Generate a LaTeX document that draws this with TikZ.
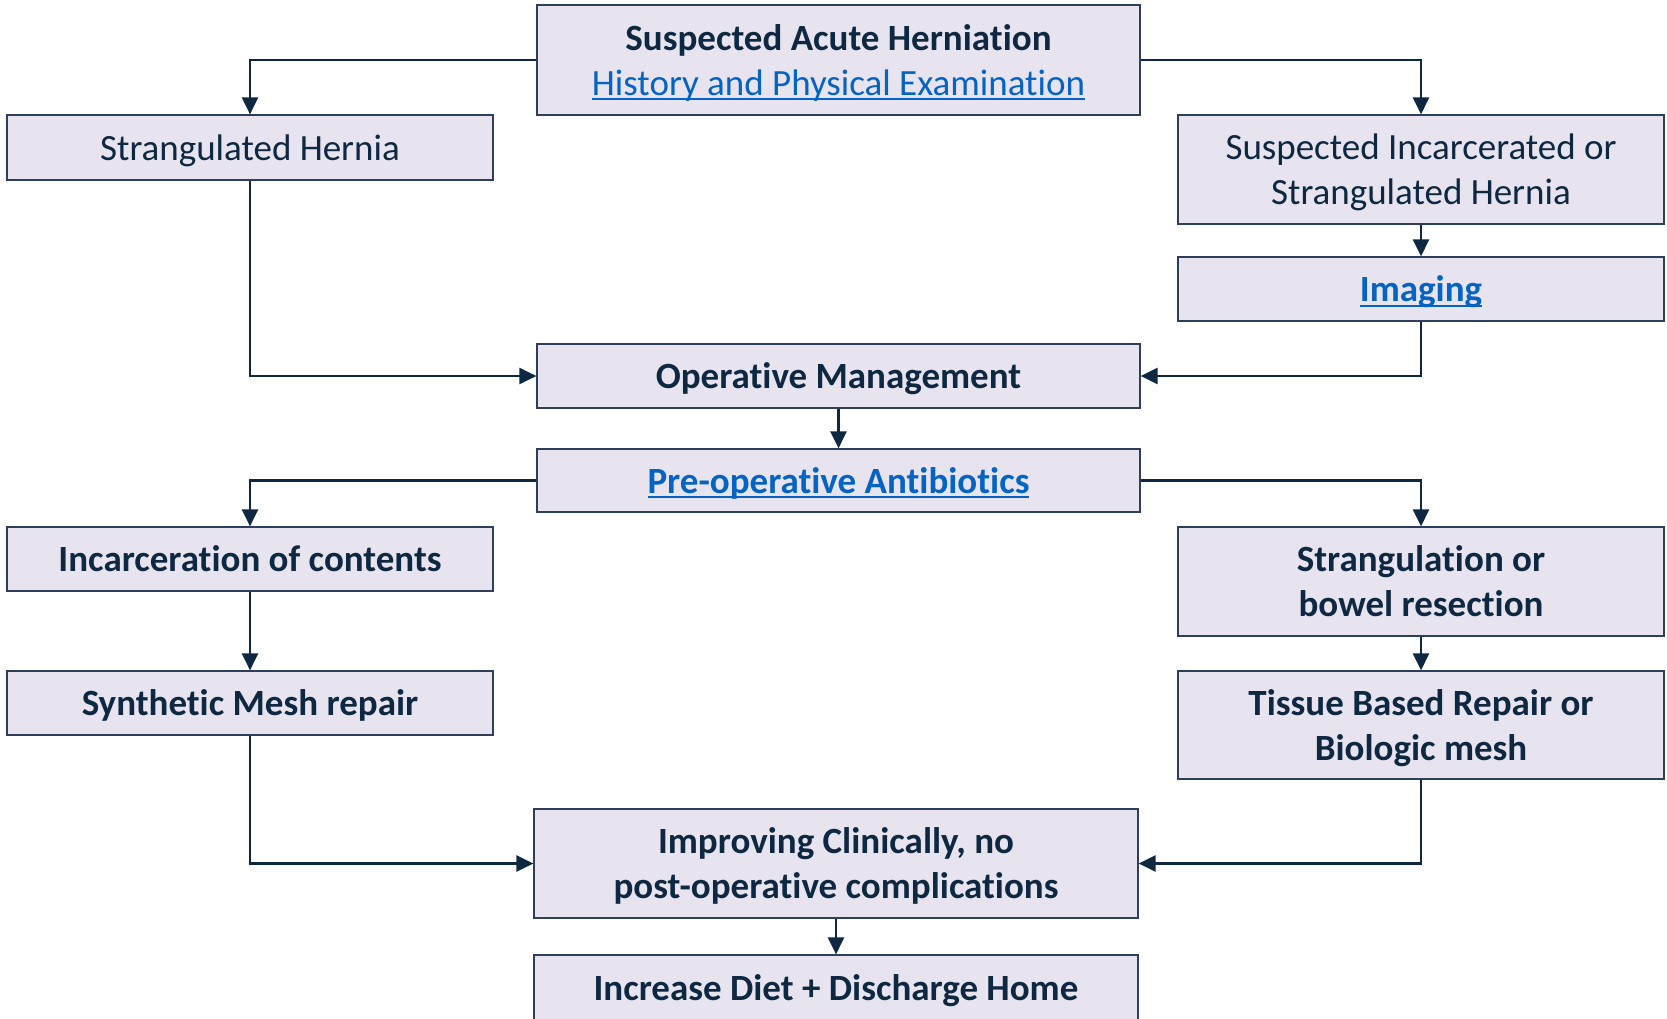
\documentclass[tikz,border=0pt]{standalone}
\usepackage{fontspec}
\setmainfont{Carlito}[Ligatures={NoCommon,NoRare}]
\usetikzlibrary{arrows.meta}
\definecolor{navy}{HTML}{0E2841}
\definecolor{boxfill}{HTML}{E7E4F0}
\definecolor{boxline}{HTML}{2E3F5C}
\definecolor{linkblue}{HTML}{0563C1}
\newsavebox{\lnkbox}
\newcommand{\lnk}[1]{\textcolor{linkblue}{\sbox{\lnkbox}{#1}\rlap{\rule[-5pt]{\wd\lnkbox}{2.2pt}}\usebox{\lnkbox}}}
\begin{document}
\begin{tikzpicture}[x=1pt,y=-1pt,
  box/.style={draw=boxline, line width=1.2pt, fill=boxfill, text=navy, align=center,
    font=\fontsize{37}{45}\selectfont, inner sep=0pt, text depth=0pt},
  wbox/.style={box, minimum width=486pt},
  cbox/.style={box, minimum width=603pt},
  conn/.style={draw=navy, line width=2.6pt, -{Triangle[length=17pt,width=16pt]}}]
\useasboundingbox (0,0) rectangle (1667,1019);

\node[cbox, minimum height=110pt] (top) at (838.5,60)
  {\textbf{Suspected Acute Herniation}\\\lnk{History and Physical Examination}};
\node[wbox, minimum height=65pt] (sh) at (250,147.5) {Strangulated Hernia};
\node[wbox, minimum height=109pt] (si) at (1421,169.5) {Suspected Incarcerated or\\Strangulated Hernia};
\node[wbox, minimum height=64pt] (img) at (1421,289) {\textbf{\lnk{Imaging}}};
\node[cbox, minimum height=64pt] (om) at (838.5,376) {\textbf{Operative Management}};
\node[cbox, minimum height=63pt] (pre) at (838.5,480.5) {\textbf{\lnk{Pre-operative Antibiotics}}};
\node[wbox, minimum height=64pt] (inc) at (250,559) {\textbf{Incarceration of contents}};
\node[wbox, minimum height=109pt] (str) at (1421,581.5) {\textbf{Strangulation or}\\\textbf{bowel resection}};
\node[wbox, minimum height=64pt] (syn) at (250,703) {\textbf{Synthetic Mesh repair}};
\node[wbox, minimum height=108pt] (tis) at (1421,725) {\textbf{Tissue Based Repair or}\\\textbf{Biologic mesh}};
\node[box, minimum width=604pt, minimum height=109pt] (imp) at (836,863.5)
  {\textbf{Improving Clinically, no}\\\textbf{post-operative complications}};
\node[box, minimum width=604pt, minimum height=66pt] (diet) at (836,988)
  {\textbf{Increase Diet + Discharge Home}};

\draw[conn] (top.west) -| (sh.north);
\draw[conn] (top.east) -| (si.north);
\draw[conn] (si) -- (img);
\draw[conn] (sh.south) |- (om.west);
\draw[conn] (img.south) |- (om.east);
\draw[conn] (om) -- (pre);
\draw[conn] (pre.west) -| (inc.north);
\draw[conn] (pre.east) -| (str.north);
\draw[conn] (inc) -- (syn);
\draw[conn] (str) -- (tis);
\draw[conn] (syn.south) |- (imp.west);
\draw[conn] (tis.south) |- (imp.east);
\draw[conn] (imp) -- (diet);
\end{tikzpicture}
\end{document}
